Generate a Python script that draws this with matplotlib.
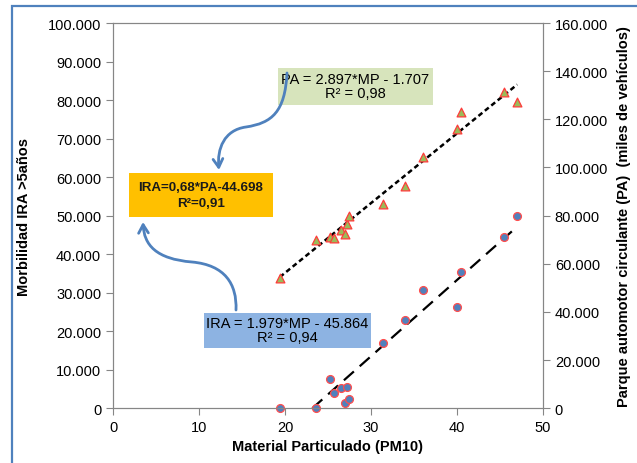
import numpy as np
import matplotlib
matplotlib.use('Agg')
import matplotlib.pyplot as plt
from matplotlib.patches import Rectangle, FancyArrowPatch
from matplotlib.path import Path
from matplotlib.ticker import FuncFormatter, MultipleLocator

plt.rcParams['font.family'] = ['Liberation Sans', 'DejaVu Sans']

# data
pm10 = [19.4, 23.6, 25.2, 25.7, 26.5, 27.0, 27.2, 27.4,
        31.4, 34.0, 36.0, 40.0, 40.5, 45.5, 47.0]
ira = [0, 0, 7500, 4100, 5200, 1300, 5500, 2300,
       16900, 22900, 30700, 26400, 35500, 44500, 50000]
pa = [54000, 69800, 71300, 70600, 74000, 72500, 76500, 80000,
      84800, 92300, 104500, 116000, 122900, 131500, 127100]

# trendline coefficients shown on the chart
ira_slope, ira_icpt = 1979, -45864
pa_slope, pa_icpt = 2897, -1707

ira_label = 'IRA = 1.979*MP - 45.864\nR² = 0,94'
pa_label = 'PA = 2.897*MP - 1.707\nR² = 0,98'
rel_label = 'IRA=0,68*PA-44.698\nR²=0,91'

W, H = 637, 464
fig = plt.figure(figsize=(W / 100, H / 100), dpi=100)

def fx(px):
    return px / W

def fy(py):
    return 1 - py / H

ax = fig.add_axes([fx(113), fy(409.3), fx(543) - fx(113), fy(24) - fy(409.3)])
ax2 = ax.twinx()

axis_col = '#868686'
for a in (ax, ax2):
    for s in a.spines.values():
        s.set_color(axis_col)
    a.tick_params(colors=axis_col, labelcolor='black', labelsize=10.5, length=5, direction='out')

thousands = FuncFormatter(lambda v, p: '{:,.0f}'.format(v).replace(',', '.'))

ax.set_xlim(0, 50)
ax.xaxis.set_major_locator(MultipleLocator(10))
ax.set_ylim(0, 100000)
ax.yaxis.set_major_locator(MultipleLocator(10000))
ax.yaxis.set_major_formatter(thousands)
ax2.set_ylim(0, 160000)
ax2.yaxis.set_major_locator(MultipleLocator(20000))
ax2.yaxis.set_major_formatter(thousands)

# trend lines
x_lo, x_hi = min(pm10), max(pm10)
x_ira0 = max(x_lo, -ira_icpt / ira_slope)
xs = np.array([x_ira0, x_hi])
ax.plot(xs, ira_slope * xs + ira_icpt, color='black', lw=1.6,
        linestyle=(0, (6, 3.5)), zorder=2)
xs = np.array([x_lo, x_hi])
ax2.plot(xs, pa_slope * xs + pa_icpt, color='black', lw=1.8,
         linestyle=(0, (2.0, 1.3)), zorder=2)

ax.scatter(pm10, ira, s=32, marker='o', facecolor='#4f81bd', edgecolor='#ff4d4d',
           linewidth=0.9, zorder=3, clip_on=False)
ax2.scatter(pm10, pa, s=40, marker='^', facecolor='#9bbb59', edgecolor='#ff3b3b',
            linewidth=0.9, zorder=3, clip_on=False)

ax.set_xlabel('Material Particulado (PM10)', fontsize=10.5, fontweight='bold')
ax.set_ylabel('Morbilidad IRA >5años', fontsize=10.5, fontweight='bold')
ax2.set_ylabel('Parque automotor circulante (PA)  (miles de vehículos)',
               fontsize=10.5, fontweight='bold')
ax.xaxis.set_label_coords(0.5, (409.3 - 440) / 385.3)
ax.yaxis.set_label_coords((31 - 113) / 430, 0.5)
ax2.yaxis.set_label_coords((617 - 113) / 430, 0.5)

# equation boxes
def box(x0, y0, x1, y1, bg, text, spacing=1.0, **kw):
    fig.add_artist(Rectangle((fx(x0), fy(y1)), fx(x1) - fx(x0), fy(y0) - fy(y1),
                             transform=fig.transFigure, facecolor=bg,
                             edgecolor='none', zorder=5))
    fig.text(fx((x0 + x1) / 2), fy((y0 + y1) / 2), text, ha='center', va='center',
             multialignment='center', zorder=6, linespacing=spacing, **kw)

box(278, 69, 433, 106, '#d7e4bc', pa_label, fontsize=10.5)
box(204, 314, 371, 349, '#8db3e2', ira_label, fontsize=10.5)
box(129, 174, 273, 218, '#ffc000', rel_label, spacing=1.45, fontsize=9.6,
    fontweight='bold', color='#1a1a1a')

# curved arrows
def curved_arrow(pts):
    verts = [(fx(x), fy(y)) for x, y in pts]
    codes = [Path.MOVETO] + [Path.CURVE4] * (len(pts) - 1)
    arr = FancyArrowPatch(path=Path(verts, codes), transform=fig.transFigure,
                          arrowstyle='->,head_length=6,head_width=3.5',
                          color='#4f81bd', lw=2.0, shrinkA=0, shrinkB=0, zorder=7)
    fig.add_artist(arr)

curved_arrow([(287, 74), (285, 113), (272, 124), (246, 128),
              (224, 131), (217, 150), (219, 171)])
curved_arrow([(236, 311), (237, 285), (225, 266), (192, 263),
              (156, 260), (144, 246), (143, 223)])

# outer frame of the chart object
fig.add_artist(Rectangle((fx(12), -0.1), 1.2, fy(7) + 0.1, transform=fig.transFigure,
                         fill=False, edgecolor='#4f81bd', lw=1.6))

fig.savefig('out.png', dpi=100)
